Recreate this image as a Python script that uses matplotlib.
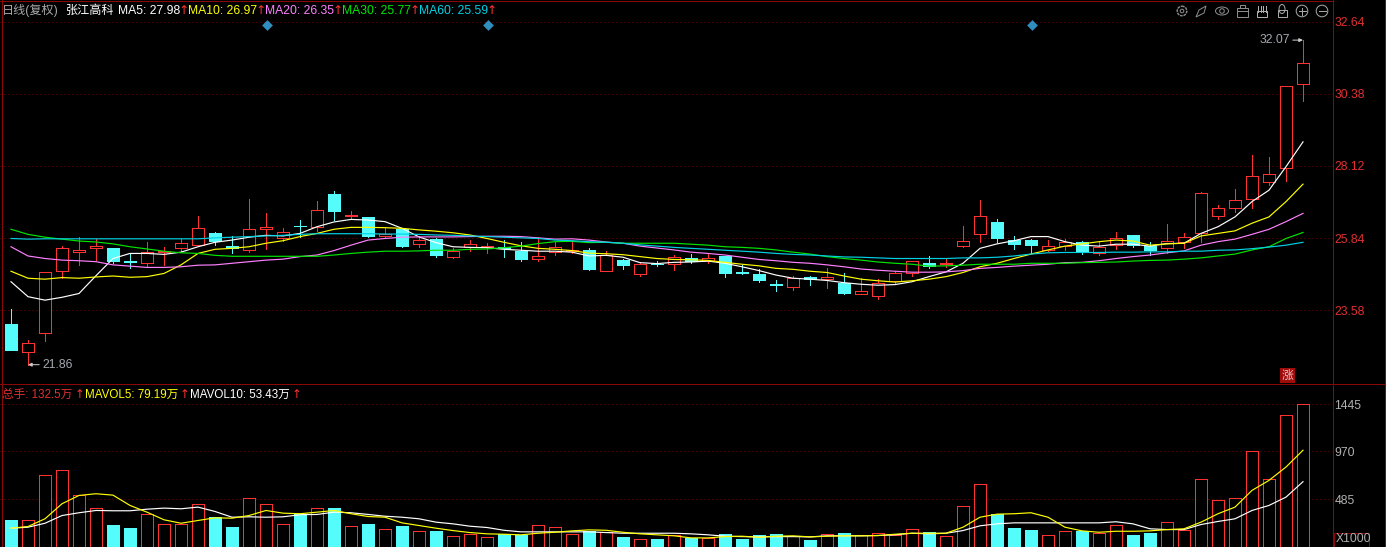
import matplotlib
matplotlib.use("Agg")
import matplotlib.pyplot as plt
from matplotlib.patches import Circle, Rectangle, Ellipse, Polygon
import numpy as np

plt.rcParams["font.family"] = ["Liberation Sans", "Noto Sans CJK SC", "DejaVu Sans"]

W, H = 1386, 547
AXIS_X = 1333
SPLIT_Y = 383
PX = 0.72  # one pixel in points at dpi 100
MA_LW = 0.85
FS = 8.7

# daily candles
opens = [23.14, 22.27, 22.85, 24.80, 25.40, 25.54, 25.53, 25.11, 25.05, 25.42,
         25.54, 25.62, 25.99, 25.59, 25.46, 26.14, 25.85, 26.23, 26.18, 27.23,
         26.55, 26.50, 25.92, 26.13, 25.65, 25.81, 25.26, 25.55, 25.57, 25.55,
         25.45, 25.19, 25.40, 25.44, 25.47, 24.82, 25.15, 24.72, 25.04, 25.04,
         25.21, 25.13, 25.28, 24.78, 24.71, 24.39, 24.31, 24.62, 24.56, 24.42,
         24.09, 24.03, 24.50, 24.73, 25.05, 25.03, 25.60, 25.96, 26.35, 25.78,
         25.78, 25.47, 25.60, 25.71, 25.36, 25.63, 25.94, 25.60, 25.53, 25.73,
         25.99, 26.55, 26.80, 27.06, 27.62, 28.04, 30.68]
highs = [23.61, 22.63, 24.77, 25.59, 25.87, 25.80, 25.53, 25.34, 25.72, 25.55,
         25.81, 26.54, 26.03, 25.91, 27.07, 26.63, 26.16, 26.41, 27.01, 27.32,
         26.69, 26.50, 26.17, 26.13, 25.91, 25.84, 25.52, 25.78, 25.69, 25.78,
         25.72, 25.87, 25.72, 25.78, 25.53, 25.43, 25.18, 25.10, 25.12, 25.31,
         25.34, 25.34, 25.28, 24.99, 24.86, 24.52, 24.64, 24.65, 24.89, 24.73,
         24.58, 24.55, 24.82, 25.11, 25.28, 25.18, 26.22, 27.04, 26.43, 25.91,
         25.81, 25.78, 25.81, 25.74, 25.74, 26.03, 25.94, 25.71, 26.28, 25.99,
         27.30, 26.87, 27.39, 28.46, 28.39, 30.62, 32.07]
lows = [22.32, 21.86, 22.61, 24.58, 25.00, 25.15, 25.07, 24.90, 24.92, 24.99,
        25.40, 25.62, 25.62, 25.38, 25.41, 25.51, 25.76, 25.89, 26.07, 26.41,
        26.43, 25.87, 25.89, 25.55, 25.55, 25.26, 25.21, 25.45, 25.38, 25.26,
        25.13, 25.13, 25.32, 25.36, 24.85, 24.82, 24.87, 24.66, 24.96, 24.84,
        25.07, 25.06, 24.62, 24.71, 24.46, 24.18, 24.21, 24.37, 24.27, 24.08,
        24.09, 23.92, 24.43, 24.66, 24.91, 24.94, 25.56, 25.73, 25.73, 25.50,
        25.36, 25.45, 25.47, 25.35, 25.31, 25.50, 25.57, 25.30, 25.38, 25.53,
        25.71, 26.44, 26.66, 26.80, 27.51, 27.64, 30.15]
closes = [22.32, 22.53, 24.77, 25.52, 25.46, 25.59, 25.13, 25.09, 25.40, 25.44,
          25.68, 26.15, 25.76, 25.52, 26.12, 26.18, 26.02, 26.21, 26.72, 26.70,
          26.57, 25.92, 25.97, 25.60, 25.78, 25.31, 25.45, 25.65, 25.59, 25.53,
          25.18, 25.27, 25.55, 25.46, 24.87, 25.31, 24.99, 25.02, 25.02, 25.24,
          25.12, 25.21, 24.75, 24.76, 24.52, 24.37, 24.60, 24.55, 24.61, 24.11,
          24.17, 24.42, 24.73, 25.11, 24.97, 25.05, 25.74, 26.55, 25.84, 25.67,
          25.63, 25.60, 25.73, 25.40, 25.57, 25.85, 25.63, 25.47, 25.74, 25.89,
          27.25, 26.78, 27.03, 27.79, 27.85, 30.62, 31.34]

ma5 = [24.47, 24.00, 23.89, 23.98, 24.10, 24.66, 25.20, 25.36, 25.36, 25.33,
       25.40, 25.57, 25.71, 25.78, 25.87, 25.93, 25.91, 25.99, 26.20, 26.35,
       26.43, 26.41, 26.36, 26.15, 25.88, 25.70, 25.57, 25.55, 25.54, 25.49,
       25.46, 25.43, 25.43, 25.40, 25.28, 25.30, 25.24, 25.07, 25.04, 25.08,
       25.09, 25.12, 25.05, 24.94, 24.82, 24.68, 24.58, 24.55, 24.51, 24.44,
       24.39, 24.36, 24.38, 24.47, 24.63, 24.78, 25.05, 25.52, 25.66, 25.76,
       25.89, 25.89, 25.73, 25.62, 25.59, 25.65, 25.65, 25.59, 25.67, 25.68,
       25.99, 26.20, 26.51, 26.99, 27.35, 28.09, 28.87]
ma10 = [24.80, 24.58, 24.55, 24.60, 24.58, 24.62, 24.65, 24.61, 24.63, 24.73,
        25.00, 25.36, 25.49, 25.52, 25.57, 25.68, 25.76, 25.89, 25.99, 26.12,
        26.18, 26.18, 26.17, 26.15, 26.10, 26.06, 26.01, 25.94, 25.83, 25.71,
        25.60, 25.52, 25.49, 25.45, 25.37, 25.35, 25.32, 25.26, 25.20, 25.17,
        25.16, 25.14, 25.08, 25.02, 24.97, 24.89, 24.86, 24.80, 24.76, 24.65,
        24.55, 24.50, 24.46, 24.50, 24.55, 24.63, 24.76, 24.94, 25.05, 25.20,
        25.34, 25.47, 25.59, 25.66, 25.73, 25.78, 25.75, 25.62, 25.66, 25.68,
        25.91, 25.99, 26.07, 26.31, 26.51, 26.99, 27.54]
ma20 = [25.57, 25.28, 25.20, 25.15, 25.13, 25.10, 25.00, 24.96, 24.92, 24.92,
        24.94, 24.99, 25.00, 25.05, 25.10, 25.15, 25.18, 25.26, 25.31, 25.45,
        25.62, 25.78, 25.83, 25.87, 25.88, 25.88, 25.88, 25.89, 25.90, 25.90,
        25.89, 25.85, 25.81, 25.82, 25.78, 25.72, 25.68, 25.59, 25.53, 25.47,
        25.40, 25.36, 25.31, 25.24, 25.17, 25.13, 25.08, 25.05, 25.00, 24.94,
        24.87, 24.83, 24.80, 24.77, 24.77, 24.78, 24.82, 24.89, 24.92, 24.96,
        24.99, 25.02, 25.07, 25.08, 25.13, 25.20, 25.26, 25.31, 25.38, 25.44,
        25.62, 25.73, 25.81, 25.96, 26.12, 26.36, 26.62]
ma30 = [26.12, 25.96, 25.87, 25.81, 25.75, 25.72, 25.66, 25.57, 25.50, 25.43,
        25.38, 25.36, 25.30, 25.27, 25.27, 25.27, 25.27, 25.27, 25.27, 25.31,
        25.36, 25.40, 25.43, 25.43, 25.44, 25.46, 25.46, 25.49, 25.50, 25.54,
        25.59, 25.67, 25.73, 25.74, 25.70, 25.71, 25.68, 25.68, 25.68, 25.68,
        25.65, 25.62, 25.57, 25.55, 25.52, 25.47, 25.40, 25.34, 25.26, 25.20,
        25.15, 25.09, 25.05, 25.02, 24.96, 24.97, 24.99, 25.02, 25.02, 25.02,
        25.05, 25.05, 25.05, 25.07, 25.08, 25.09, 25.12, 25.14, 25.15, 25.18,
        25.22, 25.28, 25.34, 25.47, 25.57, 25.83, 26.02]
ma60 = [25.83, 25.81, 25.82, 25.82, 25.82, 25.82, 25.82, 25.82, 25.82, 25.82,
        25.82, 25.82, 25.85, 25.87, 25.89, 25.91, 25.93, 25.96, 25.98, 25.98,
        25.98, 25.98, 25.97, 25.97, 25.96, 25.94, 25.93, 25.91, 25.89, 25.87,
        25.85, 25.83, 25.78, 25.76, 25.73, 25.71, 25.68, 25.63, 25.59, 25.55,
        25.52, 25.49, 25.46, 25.43, 25.40, 25.36, 25.33, 25.31, 25.28, 25.25,
        25.24, 25.22, 25.20, 25.20, 25.20, 25.20, 25.22, 25.22, 25.24, 25.28,
        25.34, 25.38, 25.39, 25.39, 25.39, 25.40, 25.40, 25.41, 25.41, 25.43,
        25.43, 25.46, 25.47, 25.51, 25.56, 25.62, 25.71]

# volume in thousands of lots
volume = [271, 278, 734, 785, 531, 400, 230, 190, 339, 237,
          237, 440, 304, 210, 501, 440, 237, 339, 400, 392,
          217, 240, 187, 220, 166, 169, 116, 136, 105, 136,
          126, 227, 207, 136, 169, 156, 108, 85, 88, 126,
          91, 95, 139, 88, 129, 139, 112, 78, 136, 149,
          126, 146, 129, 187, 159, 116, 420, 643, 339, 190,
          179, 126, 166, 169, 146, 227, 129, 149, 258, 179,
          694, 481, 501, 978, 694, 1332, 1445]
mavol5 = [193, 210, 288, 440, 524, 541, 527, 423, 355, 278,
          243, 271, 298, 294, 321, 372, 345, 339, 355, 372,
          339, 311, 304, 247, 220, 193, 169, 149, 136, 132,
          126, 142, 152, 166, 176, 172, 152, 136, 126, 116,
          95, 95, 108, 112, 101, 112, 116, 105, 112, 116,
          116, 119, 132, 142, 142, 142, 203, 304, 335, 339,
          349, 304, 203, 166, 152, 162, 162, 166, 179, 187,
          254, 339, 406, 575, 676, 811, 981]
mavol10 = [193, 203, 243, 321, 349, 372, 369, 369, 385, 396,
           389, 406, 362, 304, 308, 304, 308, 329, 332, 355,
           349, 332, 314, 304, 288, 254, 237, 213, 200, 172,
           156, 156, 156, 156, 156, 149, 142, 142, 142, 142,
           136, 126, 112, 108, 105, 108, 108, 105, 116, 116,
           116, 119, 126, 142, 136, 142, 169, 217, 237, 247,
           247, 247, 247, 247, 247, 258, 237, 187, 179, 179,
           230, 261, 288, 372, 423, 507, 663]

price_ticks = [32.64, 30.38, 28.12, 25.84, 23.58]
volume_ticks = [1445, 970, 485]
event_days = [15, 28, 60]
event_price = 32.55

RED = "#ff3232"
CYAN = "#54fcfc"
GRID = "#800000"
FRAME = "#8a0808"
GREY = "#a4a8b0"
MA_COLORS = ["#ffffff", "#ffff00", "#ff80ff", "#00e600", "#00d2e6"]
LEFT_X = -11 / 17
RIGHT_X = (AXIS_X - 11) / 17
BAR_W = 12 / 17


def style_axes(ax, ticks, labelcolor):
    ax.set_facecolor("black")
    ax.set_xlim(LEFT_X, RIGHT_X)
    ax.set_xticks([])
    ax.yaxis.tick_right()
    ax.set_yticks(ticks)
    ax.set_yticklabels([f"{t:g}" if t > 100 else f"{t:.2f}" for t in ticks])
    ax.tick_params(axis="y", length=0, pad=1, labelsize=FS, labelcolor=labelcolor)
    for s in ["left", "top", "bottom"]:
        ax.spines[s].set_visible(False)
    ax.spines["right"].set_color(FRAME)
    ax.spines["right"].set_linewidth(PX)
    for t in ticks:
        ax.axhline(t, color=GRID, lw=PX, ls=(0, (1, 3)), zorder=0)


def draw_boxes(ax, x, bottom, height, up):
    edge = [RED if u else CYAN for u in up]
    face = ["black" if u else CYAN for u in up]
    ax.bar(x, height, bottom=bottom, width=BAR_W, color=face, edgecolor=edge,
           linewidth=PX, antialiased=False, zorder=3)


fig = plt.figure(figsize=(W / 100, H / 100), dpi=100, facecolor="black")
price_ax = fig.add_axes([0, (H - SPLIT_Y) / H, AXIS_X / W, SPLIT_Y / H])
vol_ax = fig.add_axes([0, 0, AXIS_X / W, (H - SPLIT_Y) / H])

# price panel
days = np.arange(len(closes))
o, h, l, c = map(np.array, (opens, highs, lows, closes))
up = c >= o
tops = np.maximum(o, c)
bots = np.minimum(o, c)

style_axes(price_ax, price_ticks, "#e03030")
price_ax.set_ylim(33.332 - SPLIT_Y / 31.79, 33.332)
wick_col = [RED if u else CYAN for u in up]
price_ax.vlines(days, tops, h, colors=wick_col, lw=PX, antialiased=False, zorder=2)
price_ax.vlines(days, l, bots, colors=wick_col, lw=PX, antialiased=False, zorder=2)
draw_boxes(price_ax, days, bots, tops - bots, up)
for series, col in zip([ma5, ma10, ma20, ma30, ma60], MA_COLORS):
    price_ax.plot(days, series, color=col, lw=MA_LW, zorder=4)
price_ax.scatter(np.array(event_days) + 0.06, [event_price] * len(event_days), marker="D", s=30,
                 color="#2f8fbf", linewidths=0, zorder=5)

# high/low callouts
low_day = int(np.argmin(l))
high_day = int(np.argmax(h))
price_ax.annotate(f"{l[low_day]:.2f}", xy=(low_day, l[low_day]), xytext=(14, 0),
                  textcoords="offset pixels", color=GREY, fontsize=FS, va="center",
                  arrowprops=dict(arrowstyle="-|>,head_width=0.12,head_length=0.25",
                                  color="#d0d0d0", lw=PX, shrinkA=0, shrinkB=0))
price_ax.annotate(f"{h[high_day]:.2f}", xy=(high_day, h[high_day]), xytext=(-13, 0),
                  textcoords="offset pixels", color=GREY, fontsize=FS, va="center", ha="right",
                  arrowprops=dict(arrowstyle="-|>,head_width=0.12,head_length=0.25",
                                  color="#d0d0d0", lw=PX, shrinkA=0, shrinkB=0))

# volume panel
vol = np.array(volume)
style_axes(vol_ax, volume_ticks, "#b0b0b0")
vol_ax.set_ylim(3, 1660)
draw_boxes(vol_ax, days, np.zeros(len(vol)), vol, up)
vol_ax.plot(days, mavol10, color="#ffffff", lw=MA_LW, zorder=4)
vol_ax.plot(days, mavol5, color="#ffff00", lw=MA_LW, zorder=4)

# pixel overlay for frame, header text and toolbar
ov = fig.add_axes([0, 0, 1, 1], facecolor="none")
ov.set_xlim(0, W)
ov.set_ylim(H, 0)
ov.axis("off")
ov.plot([1.5, 1.5], [0, H], color=FRAME, lw=PX)
ov.plot([0, AXIS_X], [0.5, 0.5], color=FRAME, lw=PX)
ov.plot([0, W], [SPLIT_Y + 0.5, SPLIT_Y + 0.5], color=FRAME, lw=PX)
ov.plot([W - 1.5, W - 1.5], [0, H], color=FRAME, lw=PX)

header = [
    (2, "日线(复权)", "#a8a8a8"), (66, "张江高科", "#ffffff"),
    (118, "MA5: 27.98", "#ffffff"), (178, "↑", RED),
    (188, "MA10: 26.97", "#ffff00"), (255, "↑", RED),
    (265, "MA20: 26.35", "#ff80ff"), (332, "↑", RED),
    (342, "MA30: 25.77", "#00e600"), (409, "↑", RED),
    (419, "MA60: 25.59", "#00d2e6"), (486, "↑", RED),
]
for x, s, col in header:
    fam = ["DejaVu Sans"] if s == "↑" else None
    ov.text(x, 10.5, s, color=col, fontsize=FS, va="center", ha="left", family=fam)
vol_header = [
    (2, "总手: 132.5万", "#e03030"), (75, "↑", RED),
    (85, "MAVOL5: 79.19万", "#ffff00"), (180, "↑", RED),
    (190, "MAVOL10: 53.43万", "#ffffff"), (292, "↑", RED),
]
for x, s, col in vol_header:
    fam = ["DejaVu Sans"] if s == "↑" else None
    ov.text(x, 394.5, s, color=col, fontsize=8.4, va="center", ha="left", family=fam)

ov.add_patch(Rectangle((1279.5, 368), 15, 15, facecolor="#a00c0c", edgecolor="none"))
ov.text(1287, 375.5, "涨", color="#f0c0c0", fontsize=8.5, ha="center", va="center")
ov.add_patch(Rectangle((1334, 532.5), 35, 14, facecolor="none", edgecolor=FRAME, lw=PX))
ov.text(1335.5, 539.5, "X1000", color="#b0b0b0", fontsize=FS, ha="left", va="center")

ICON = "#8c8c8c"
iy = 11
ov.add_patch(Circle((1182, iy), 4.8, fill=False, ec=ICON, lw=1, ls=(0, (2, 0.6))))
ov.add_patch(Circle((1182, iy), 1.8, fill=False, ec=ICON, lw=PX))
ov.add_patch(Polygon([(1196, iy + 6), (1199, iy - 1), (1206, iy - 5), (1204, iy + 2)], fill=False, ec=ICON, lw=PX))
ov.add_patch(Ellipse((1222, iy), 13, 8, fill=False, ec=ICON, lw=PX))
ov.add_patch(Circle((1222, iy), 2.3, fill=False, ec=ICON, lw=PX))
ov.add_patch(Rectangle((1237, iy - 3), 11, 9, fill=False, ec=ICON, lw=PX))
ov.add_patch(Rectangle((1240, iy - 6), 5, 3, fill=False, ec=ICON, lw=PX))
ov.plot([1237, 1248], [iy, iy], color=ICON, lw=PX)
ov.add_patch(Rectangle((1257, iy), 10, 6, facecolor="none", edgecolor="#b0b0b0", lw=PX))
for fx in [1258, 1260.5, 1263, 1265.5]:
    ov.plot([fx, fx], [iy - 5, iy + 1], color="#b0b0b0", lw=PX)
ov.add_patch(Rectangle((1277.5, iy - 1), 9, 7, fill=False, ec="#a8a8a8", lw=PX))
ov.add_patch(Ellipse((1282, iy - 2), 6, 9, fill=False, ec="#a8a8a8", lw=PX))
for cx in [1302, 1322]:
    ov.add_patch(Circle((cx, iy), 5.8, fill=False, ec="#a8a8a8", lw=PX))
    ov.plot([cx - 3.5, cx + 3.5], [iy, iy], color="#a8a8a8", lw=PX)
ov.plot([1302, 1302], [iy - 3.5, iy + 3.5], color="#a8a8a8", lw=PX)

fig.savefig("out.png", dpi=100, facecolor="black")
